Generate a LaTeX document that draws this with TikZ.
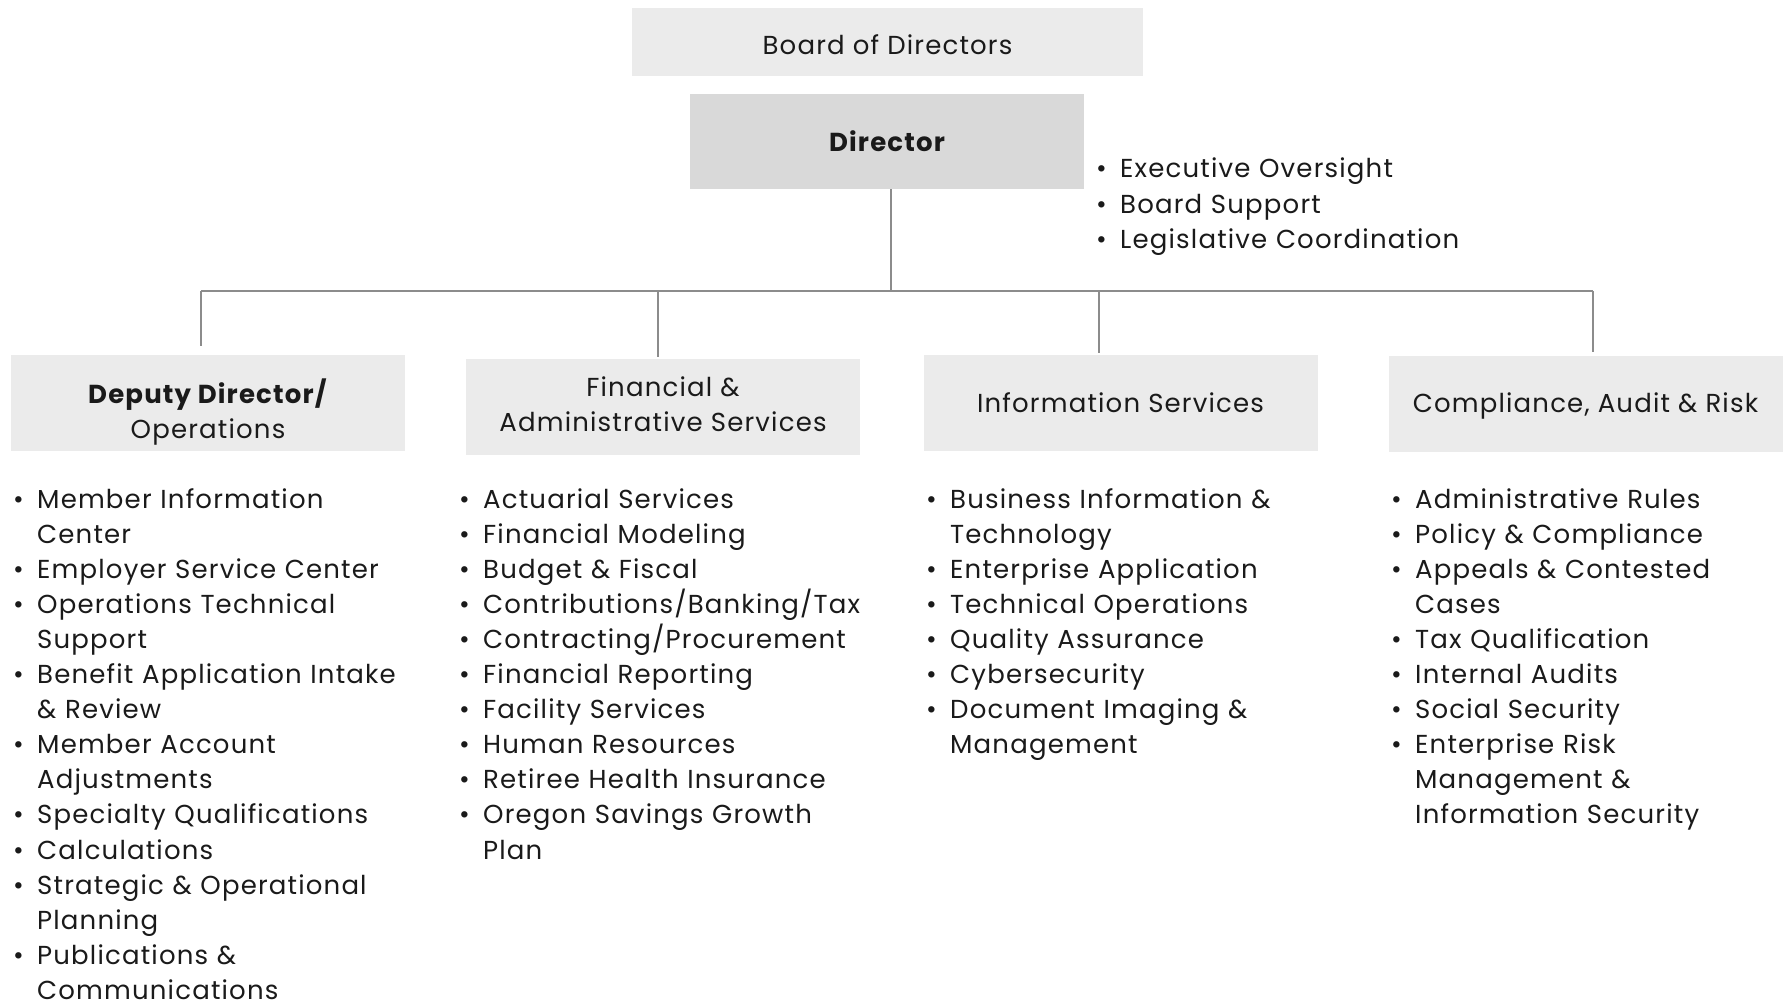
\documentclass[tikz,border=0pt]{standalone}
\usepackage{fontspec}
\setmainfont{Poppins}[LetterSpace=4.5]
\usetikzlibrary{positioning, calc}
\definecolor{boxlight}{HTML}{EBEBEB}
\definecolor{boxdark}{HTML}{D9D9D9}
\definecolor{wire}{HTML}{8C8C8C}
\definecolor{ink}{HTML}{1A1A1A}
\newcommand{\bul}{\makebox[25pt][l]{\hspace{1pt}\textbullet}}
\newcommand{\ind}{\hspace*{25pt}}

\begin{document}
\begin{tikzpicture}[x=1pt, y=-1pt,
    every node/.style={font=\fontsize{26}{35.1}\selectfont, text=ink, inner sep=0pt},
    unit/.style={fill=boxlight, minimum width=394pt, minimum height=96pt, align=center},
    duties/.style={anchor=base west, text width=440pt, align=left},
    link/.style={draw=wire, line width=1.3pt}]
    \useasboundingbox (0,0) rectangle (1789,1003);

    % top of the chart
    \node[unit, minimum width=511pt, minimum height=68pt] (board) at (887.5,42) {\raisebox{-3pt}[\height][\depth]{Board of Directors}};
    \node[unit, fill=boxdark, minimum height=95pt] (dir) at (887,141.5) {\bfseries Director};
    \node[duties] (dirtasks) at (1095,178) {\bul Executive Oversight\\ \bul Board Support\\ \bul Legislative Coordination};

    % the four divisions
    \node[unit] (ops) at (208,403) {\raisebox{-11pt}[\height][\depth]{\begin{tabular}{@{}c@{}}\textbf{Deputy Director/}\\Operations\end{tabular}}};
    \node[unit] (fin) at (663,407) {\begin{tabular}{@{}c@{}}Financial \&\\Administrative Services\end{tabular}};
    \node[unit] (info) at (1120.5,402.5) {Information Services};
    \node[unit] (car) at (1585.5,403.5) {\raisebox{-2pt}[\height][\depth]{Compliance, Audit \& Risk}};

    % connectors
    \coordinate (tapD) at (891,291);
    \coordinate (tapO) at (201,291);
    \coordinate (tapF) at (658,291);
    \coordinate (tapI) at (1099,291);
    \coordinate (tapC) at (1593,291);
    \draw[link] (dir.south -| tapD) -- (tapD);
    \draw[link] (tapO) -- (tapC);
    \draw[link, shorten >=9pt] (tapO) -- (ops.north -| tapO);
    \draw[link, shorten >=2pt] (tapF) -- (fin.north -| tapF);
    \draw[link, shorten >=1pt] (tapI) -- (info.north -| tapI);
    \draw[link, shorten >=3pt] (tapC) -- (car.north -| tapC);

    % duties per division
    \node[duties] (opslist) at (12,508) {\bul Member Information\\ \ind Center\\
        \bul Employer Service Center\\ \bul Operations Technical\\ \ind Support\\
        \bul Benefit Application Intake\\ \ind \& Review\\ \bul Member Account\\
        \ind Adjustments\\ \bul Specialty Qualifications\\ \bul Calculations\\
        \bul Strategic \& Operational\\ \ind Planning\\ \bul Publications \&\\
        \ind Communications};
    \node[duties] (finlist) at (458,508) {\bul Actuarial Services\\ \bul Financial Modeling\\
        \bul Budget \& Fiscal\\ \bul Contributions/Banking/Tax\\ \bul Contracting/Procurement\\
        \bul Financial Reporting\\ \bul Facility Services\\ \bul Human Resources\\
        \bul Retiree Health Insurance\\ \bul Oregon Savings Growth\\ \ind Plan};
    \node[duties] (infolist) at (925,508) {\bul Business Information \&\\ \ind Technology\\
        \bul Enterprise Application\\ \bul Technical Operations\\ \bul Quality Assurance\\
        \bul Cybersecurity\\ \bul Document Imaging \&\\ \ind Management};
    \node[duties] (carlist) at (1390,508) {\bul Administrative Rules\\ \bul Policy \& Compliance\\
        \bul Appeals \& Contested\\ \ind Cases\\ \bul Tax Qualification\\ \bul Internal Audits\\
        \bul Social Security\\ \bul Enterprise Risk\\ \ind Management \&\\
        \ind Information Security};
\end{tikzpicture}
\end{document}
